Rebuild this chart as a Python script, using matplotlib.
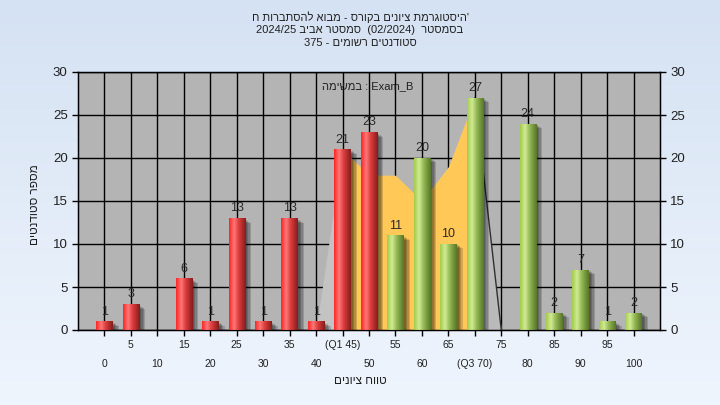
import re
import numpy as np
import matplotlib
matplotlib.use('Agg')
import matplotlib.pyplot as plt
import matplotlib.patheffects as pe
from matplotlib.colors import LinearSegmentedColormap

plt.rcParams['font.family'] = ['Liberation Sans', 'DejaVu Sans']

# data
grades = list(range(0, 101, 5))
counts = [1, 3, 0, 6, 1, 13, 1, 13, 1, 21, 23, 11, 20, 10, 27, 0, 24, 2, 7, 1, 2]
area_vals = [0, 0, 0, 0, 0, 0, 0, 0, 0, 21, 18, 18, 15, 19, 27, 0, 0, 0, 0, 0, 0]
q1, q3 = 45, 70
pass_grade = 55

title_lines = ["'היסטוגרמת ציונים בקורס - מבוא להסתברות ח",
               "בסמסטר  (02/2024)  סמסטר אביב 2024/25",
               "סטודנטים רשומים - 375"]
xlabel = "טווח ציונים"
ylabel = "מספר סטודנטים"
task_word = "במשימה"
task_name = "Exam_B"


def heb(s):
    # matplotlib draws left to right, so put hebrew in visual order
    r = s[::-1]
    return re.sub(r'[0-9A-Za-z_/().]+', lambda m: m.group(0)[::-1], r)


tick_labels = [str(g) for g in grades]
tick_labels[grades.index(q1)] = '(Q1 {})'.format(q1)
tick_labels[grades.index(q3)] = '(Q3 {})'.format(q3)

red_cmap = LinearSegmentedColormap.from_list(
    'red', [(0, '#ff2424'), (0.3, '#ff7878'), (0.55, '#e04040'), (1, '#861c1c')])
green_cmap = LinearSegmentedColormap.from_list(
    'green', [(0, '#a2cc48'), (0.3, '#d2ea96'), (0.55, '#98bc58'), (1, '#577628')])
grad = np.linspace(0, 1, 64).reshape(1, -1)

fig = plt.figure(figsize=(7.2, 4.05), dpi=100)

# light blue background
bg = fig.add_axes([0, 0, 1, 1], zorder=-10)
bg_cmap = LinearSegmentedColormap.from_list('bg', ['#d5e2f3', '#eff5fd'])
bg.imshow(np.linspace(0, 1, 100).reshape(-1, 1), cmap=bg_cmap, aspect='auto',
          extent=(0, 1, 0, 1))
bg.axis('off')

ax = fig.add_axes([78 / 720, 1 - 330 / 405, 582 / 720, 258 / 405])
ax.set_facecolor('#b4b4b4')

x = np.arange(len(grades))
i1, i3 = grades.index(q1), grades.index(q3)
av = np.array(area_vals, dtype=float)

# area series behind the bars
ax.fill_between(x[i1 - 1:i1 + 1], av[i1 - 1:i1 + 1], color='#c3c3c3', lw=0, zorder=2)
ax.fill_between(x[i1:i3 + 1], av[i1:i3 + 1], color='#ffc857', lw=0, zorder=2)
ax.fill_between(x[i3:i3 + 2], av[i3:i3 + 2], color='#bababa', lw=0, zorder=2)
ax.plot(x[i3:i3 + 2], av[i3:i3 + 2], color='#303030', lw=1, zorder=2.1)
ax.plot(x[i3 + 1:-1], av[i3 + 1:-1], color='#e8e8e8', lw=0.8, zorder=2.1)

shadow = [pe.SimplePatchShadow(offset=(o, -o * 0.7), shadow_rgbFace='k', alpha=0.16)
          for o in (1.5, 2.5, 3.5, 4.5)] + [pe.Normal()]

w = 0.62
for xi, v, g in zip(x, counts, grades):
    if v == 0:
        continue
    cmap = red_cmap if g < pass_grade else green_cmap
    b = ax.bar(xi, v, width=w, color=cmap(0.3), lw=0, zorder=3, path_effects=shadow)[0]
    im = ax.imshow(grad, cmap=cmap, extent=(xi - w / 2, xi + w / 2, 0, v),
                   aspect='auto', zorder=3.1, interpolation='bilinear')
    im.set_clip_path(b)
    ax.text(xi, v + 0.45, str(v), ha='center', va='bottom', fontsize=9,
            color='#2a2a2a', zorder=5)

ax.set_xlim(-1, 21)
ax.set_ylim(0, 30)
ax.set_yticks(range(0, 31, 5))
ax.set_xticks(x[1::2], tick_labels[1::2])
ax.set_xticks(x[0::2], tick_labels[0::2], minor=True)
ax.tick_params(axis='x', which='both', length=4, width=1, labelsize=7.5, colors='k',
               labelcolor='#202020')
ax.tick_params(axis='x', which='major', pad=3)
ax.tick_params(axis='x', which='minor', pad=17)
ax.tick_params(axis='y', length=4, width=1, labelsize=9.5, labelcolor='#202020')
ax.set_axisbelow(True)
ax.grid(True, which='both', color='k', lw=1)
for s in ax.spines.values():
    s.set_color('k')
    s.set_linewidth(1)

ax2 = ax.twinx()
ax2.set_ylim(0, 30)
ax2.set_yticks(range(0, 31, 5))
ax2.tick_params(axis='y', length=4, width=1, labelsize=9.5, labelcolor='#202020')

ax.text(0.497, 0.945, heb(task_word) + ' : ' + task_name, transform=ax.transAxes,
        ha='center', va='center', fontsize=8, color='#202020', zorder=6)

for k, line in enumerate(title_lines):
    fig.text(0.5, 1 - (17 + 13 * k) / 405, heb(line), ha='center', va='center',
             fontsize=8, color='#202020')

fig.text(0.5, 1 - 381 / 405, heb(xlabel), ha='center', va='center', fontsize=8.5,
         color='#202020')
fig.text(35 / 720, 1 - 205 / 405, heb(ylabel), ha='center', va='center',
         rotation=90, fontsize=8.5, color='#202020')

fig.savefig('out.png', dpi=100)
